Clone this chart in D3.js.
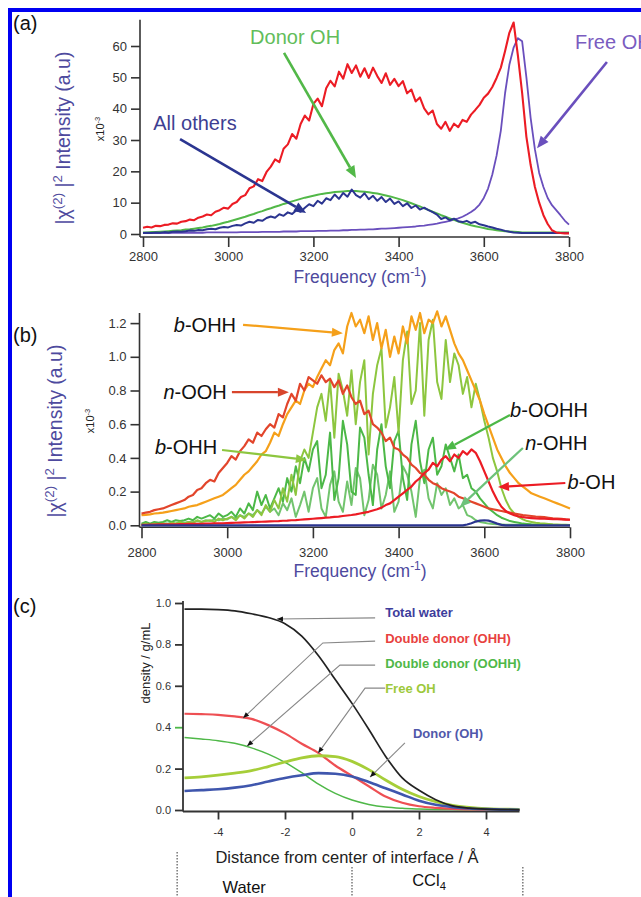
<!DOCTYPE html>
<html>
<head>
<meta charset="utf-8">
<script src="https://cdn.jsdelivr.net/npm/d3@7"></script>
<style>
  body { margin: 0; background: #fff; }
  svg { display: block; font-family: "Liberation Sans", Arial, Helvetica, sans-serif; }
  text { white-space: pre; }
</style>
</head>
<body>
<div id="chart"></div>
<script>
/* global d3 */

// ---------- data ----------
// panel (a) + (b): spectra sampled every 10 cm-1 from 2800 to 3800
const freq = d3.range(2800, 3801, 10);

// (a) total SFG (red)
const aTotal = [
  2.0, 2.3, 2.1, 2.6, 2.5, 2.9, 3.0, 3.4, 3.3, 3.9,
  4.1, 4.6, 4.4, 5.2, 5.6, 6.2, 6.0, 7.1, 7.6, 8.4,
  8.1, 9.6, 10.2, 11.8, 12.4, 14.6, 15.2, 17.5, 16.9, 19.8,
  21.5, 23.8, 22.9, 27.2, 28.6, 31.9, 30.4, 35.1, 37.8, 36.2,
  41.5, 43.2, 40.8, 46.5, 48.9, 47.1, 51.8, 49.6, 54.2, 51.4,
  53.8, 50.2, 52.9, 49.8, 53.1, 50.4, 48.2, 51.3, 47.6, 49.5,
  47.2, 48.8, 44.9, 46.1, 42.3, 43.6, 40.1, 38.2, 39.4, 35.1,
  33.6, 35.8, 32.9, 35.2, 34.1, 36.4, 35.8, 38.1, 39.6, 41.2,
  43.5, 44.8, 46.9, 49.8, 53.1, 58.4, 64.2, 67.5, 57.0, 45.0,
  31.0, 22.0, 15.0, 10.0, 6.0, 3.2, 1.2, 0.5, 0.3, 0.2,
  0.2
];
// (a) free OH (purple)
const aFree = [
  0.3, 0.3, 0.3, 0.3, 0.3, 0.3, 0.3, 0.4, 0.4, 0.4,
  0.4, 0.4, 0.4, 0.4, 0.4, 0.5, 0.5, 0.5, 0.5, 0.5,
  0.5, 0.5, 0.5, 0.6, 0.6, 0.6, 0.6, 0.6, 0.7, 0.7,
  0.7, 0.7, 0.7, 0.8, 0.8, 0.8, 0.8, 0.9, 0.9, 0.9,
  0.9, 1.0, 1.0, 1.0, 1.1, 1.1, 1.1, 1.2, 1.2, 1.3,
  1.3, 1.4, 1.4, 1.5, 1.5, 1.6, 1.7, 1.7, 1.8, 1.9,
  2.0, 2.1, 2.2, 2.3, 2.4, 2.6, 2.7, 2.9, 3.1, 3.3,
  3.6, 3.9, 4.2, 4.6, 5.0, 5.5, 6.2, 7.0, 8.0, 9.4,
  11.5, 14.5, 19.0, 25.0, 33.0, 45.0, 54.0, 59.5, 62.5, 61.5,
  50.0, 37.0, 27.0, 19.5, 15.0, 11.5, 9.2, 7.6, 6.0, 4.3,
  3.0
];
// (a) donor OH (green)
const aDonor = [
  0.5, 0.5, 0.6, 0.6, 0.7, 0.8, 0.9, 1.0, 1.1, 1.2,
  1.4, 1.5, 1.7, 1.9, 2.1, 2.4, 2.6, 2.9, 3.2, 3.6,
  3.9, 4.3, 4.7, 5.1, 5.5, 6.0, 6.4, 6.9, 7.3, 7.8,
  8.2, 8.7, 9.1, 9.6, 10.0, 10.4, 10.8, 11.2, 11.6, 11.9,
  12.2, 12.5, 12.8, 13.0, 13.2, 13.4, 13.5, 13.6, 13.7, 13.7,
  13.7, 13.6, 13.5, 13.3, 13.1, 12.9, 12.6, 12.3, 12.0, 11.6,
  11.2, 10.8, 10.3, 9.8, 9.3, 8.8, 8.2, 7.7, 7.1, 6.6,
  6.0, 5.5, 5.0, 4.5, 4.0, 3.6, 3.2, 2.8, 2.5, 2.2,
  1.9, 1.6, 1.4, 1.2, 1.0, 0.9, 0.8, 0.7, 0.6, 0.5,
  0.5, 0.5, 0.5, 0.5, 0.5, 0.5, 0.5, 0.5, 0.5, 0.5,
  0.5
];
// (a) all others (navy)
const aOthers = [
  0.3, 0.4, 0.3, 0.5, 0.4, 0.6, 0.5, 0.7, 0.8, 0.7,
  0.9, 1.1, 1.0, 1.3, 1.2, 1.5, 1.7, 1.5, 2.0, 2.2,
  2.1, 2.6, 2.9, 2.7, 3.4, 3.9, 3.6, 4.5, 4.2, 5.1,
  5.6, 5.2, 6.3, 5.8, 6.9, 6.4, 7.6, 7.1, 8.4, 9.5,
  8.9, 10.6, 9.7, 11.4, 10.8, 12.6, 11.2, 13.1, 11.9, 14.2,
  12.4, 11.6, 13.0, 11.1, 12.2, 10.6, 11.8, 10.2, 11.3, 9.6,
  10.4, 8.9, 9.8, 8.3, 9.1, 7.8, 8.4, 7.6, 7.0, 6.2,
  4.8, 5.3, 4.4, 4.9, 4.1, 3.8, 4.2, 3.5, 3.9, 3.1,
  2.8, 2.4, 2.1, 1.7, 1.4, 1.0, 0.7, 0.5, 0.4, 0.3,
  0.3, 0.3, 0.3, 0.3, 0.3, 0.3, 0.3, 0.3, 0.3, 0.3,
  0.3
];

// (b) b-OHH (orange)
const bOrange = [
  0.06, 0.062, 0.065, 0.07, 0.072, 0.075, 0.08, 0.085, 0.09, 0.095,
  0.10, 0.11, 0.115, 0.12, 0.13, 0.14, 0.15, 0.16, 0.17, 0.18,
  0.20, 0.22, 0.24, 0.27, 0.30, 0.32, 0.35, 0.38, 0.42, 0.44,
  0.49, 0.55, 0.53, 0.60, 0.66, 0.70, 0.74, 0.72, 0.80, 0.84,
  0.82, 0.88, 0.93, 0.98, 0.95, 1.04, 1.08, 1.02, 1.18, 1.26,
  1.18, 1.22, 1.14, 1.24, 1.10, 1.20, 1.05, 1.16, 1.00, 1.12,
  1.02, 1.18, 1.08, 1.24, 1.16, 1.26, 1.14, 1.22, 1.20, 1.27,
  1.18, 1.24, 1.16, 1.08, 1.02, 0.98, 0.92, 0.86, 0.80, 0.74,
  0.66, 0.59, 0.52, 0.45, 0.40, 0.35, 0.31, 0.28, 0.25, 0.23,
  0.21, 0.19, 0.18, 0.17, 0.16, 0.15, 0.14, 0.13, 0.12, 0.11,
  0.10
];
// (b) n-OOH (orange-red)
const bNOOH = [
  0.07, 0.075, 0.08, 0.09, 0.095, 0.10, 0.11, 0.12, 0.13, 0.14,
  0.15, 0.17, 0.18, 0.21, 0.22, 0.25, 0.27, 0.26, 0.31, 0.34,
  0.37, 0.41, 0.39, 0.44, 0.47, 0.51, 0.49, 0.55, 0.53, 0.57,
  0.60, 0.58, 0.66, 0.64, 0.72, 0.78, 0.74, 0.84, 0.80, 0.88,
  0.86, 0.84, 0.89, 0.85, 0.87, 0.82, 0.86, 0.78, 0.83, 0.76,
  0.72, 0.74, 0.66, 0.68, 0.60, 0.58, 0.55, 0.50, 0.52, 0.46,
  0.45, 0.42, 0.40, 0.36, 0.34, 0.31, 0.30, 0.27, 0.25, 0.24,
  0.22, 0.21, 0.20, 0.19, 0.17, 0.16, 0.15, 0.14, 0.13, 0.12,
  0.11, 0.10, 0.095, 0.09, 0.085, 0.08, 0.075, 0.07, 0.065, 0.06,
  0.058, 0.055, 0.052, 0.05, 0.048, 0.045, 0.042, 0.04, 0.038, 0.035,
  0.033
];
// (b) b-OH (red)
const bBOH = [
  0.003, 0.003, 0.004, 0.004, 0.005, 0.005, 0.005, 0.006, 0.006, 0.007,
  0.007, 0.008, 0.008, 0.009, 0.009, 0.01, 0.01, 0.011, 0.012, 0.012,
  0.013, 0.014, 0.015, 0.016, 0.017, 0.018, 0.019, 0.02, 0.021, 0.022,
  0.023, 0.024, 0.025, 0.027, 0.028, 0.03, 0.031, 0.033, 0.035, 0.037,
  0.039, 0.041, 0.043, 0.045, 0.047, 0.05, 0.052, 0.055, 0.058, 0.061,
  0.065, 0.07, 0.075, 0.08, 0.088, 0.095, 0.105, 0.12, 0.13, 0.15,
  0.17, 0.19, 0.21, 0.23, 0.26, 0.28, 0.31, 0.33, 0.37, 0.35,
  0.39, 0.41, 0.38, 0.42, 0.40, 0.44, 0.42, 0.45, 0.43, 0.38,
  0.32, 0.26, 0.20, 0.15, 0.11, 0.085, 0.07, 0.06, 0.052, 0.048,
  0.045, 0.043, 0.041, 0.04, 0.039, 0.038, 0.037, 0.036, 0.035, 0.034,
  0.033
];
// (b) green family
const bGreenA = [
  0.0, 0.01, 0.0, 0.01, 0.005, 0.01, 0.0, 0.015, 0.01, 0.02,
  0.01, 0.02, 0.015, 0.03, 0.02, 0.025, 0.03, 0.02, 0.04, 0.03,
  0.04, 0.05, 0.03, 0.06, 0.04, 0.07, 0.05, 0.09, 0.06, 0.12,
  0.08, 0.15, 0.10, 0.22, 0.14, 0.30, 0.18, 0.38, 0.45, 0.40,
  0.55, 0.70, 0.78, 0.62, 0.86, 0.52, 0.90, 0.80, 0.65, 0.92,
  0.60, 0.85, 0.98, 0.42, 0.78, 0.95, 1.05, 0.58, 0.70, 0.88,
  0.55, 0.98, 1.15, 0.72, 0.80, 1.20, 0.65, 1.10, 1.22, 0.85,
  0.75, 1.10, 0.85, 1.02, 0.95, 0.78, 0.88, 0.70, 0.84, 0.74,
  0.62, 0.52, 0.40, 0.32, 0.22, 0.15, 0.10, 0.07, 0.05, 0.035,
  0.025, 0.02, 0.015, 0.012, 0.01, 0.008, 0.006, 0.005, 0.004, 0.003,
  0.002
];
const bGreenB = [
  0.01, 0.02, 0.01, 0.02, 0.015, 0.02, 0.03, 0.02, 0.03, 0.025,
  0.03, 0.04, 0.03, 0.05, 0.04, 0.05, 0.06, 0.04, 0.07, 0.05,
  0.06, 0.08, 0.05, 0.10, 0.07, 0.13, 0.09, 0.20, 0.12, 0.18,
  0.10, 0.16, 0.22, 0.14, 0.28, 0.20, 0.35, 0.25, 0.40, 0.32,
  0.45, 0.50, 0.22, 0.30, 0.55, 0.15, 0.28, 0.62, 0.48, 0.20,
  0.18, 0.58, 0.52, 0.30, 0.12, 0.45, 0.60, 0.35, 0.22, 0.50,
  0.56, 0.28, 0.15, 0.48, 0.62, 0.38, 0.25, 0.45, 0.52, 0.30,
  0.35, 0.48, 0.40, 0.32, 0.42, 0.28, 0.30, 0.22, 0.20, 0.16,
  0.13, 0.10, 0.08, 0.06, 0.045, 0.035, 0.025, 0.02, 0.015, 0.01,
  0.008, 0.006, 0.005, 0.004, 0.003, 0.003, 0.002, 0.002, 0.002, 0.002,
  0.002
];
const bGreenC = [
  0.005, 0.01, 0.005, 0.01, 0.008, 0.012, 0.01, 0.015, 0.01, 0.02,
  0.015, 0.02, 0.018, 0.025, 0.02, 0.03, 0.025, 0.035, 0.03, 0.04,
  0.035, 0.05, 0.04, 0.06, 0.05, 0.07, 0.06, 0.09, 0.07, 0.11,
  0.08, 0.10, 0.06, 0.13, 0.09, 0.16, 0.05, 0.12, 0.20, 0.08,
  0.22, 0.28, 0.10, 0.05, 0.24, 0.32, 0.14, 0.08, 0.26, 0.12,
  0.34, 0.28, 0.06, 0.15, 0.36, 0.30, 0.10, 0.18, 0.32, 0.08,
  0.14, 0.35, 0.30, 0.20, 0.05, 0.28, 0.33, 0.16, 0.10, 0.25,
  0.18, 0.22, 0.12, 0.16, 0.10, 0.12, 0.06, 0.05, 0.03, 0.02,
  0.015, 0.01, 0.008, 0.006, 0.005, 0.004, 0.003, 0.003, 0.002, 0.002,
  0.002, 0.002, 0.002, 0.002, 0.002, 0.002, 0.002, 0.002, 0.002, 0.002,
  0.002
];
// (b) blue: [frequency, value]
const bBlue = [
  [2800, 0], [3550, 0], [3560, 0.005], [3570, 0.012], [3580, 0.022], [3590, 0.028],
  [3600, 0.03], [3610, 0.028], [3620, 0.02], [3630, 0.01], [3640, 0.003], [3650, 0], [3800, 0]
];

// panel (c): density profiles, every 0.5 A from -5 to 5
const dist = d3.range(-5, 5.01, 0.5);
const cTotal = [0.97, 0.97, 0.968, 0.962, 0.948, 0.93, 0.90, 0.84, 0.745, 0.63, 0.515,
  0.39, 0.26, 0.155, 0.095, 0.05, 0.02, 0.009, 0.004, 0.002, 0.001];
const cOHH = [0.465, 0.463, 0.46, 0.452, 0.44, 0.41, 0.37, 0.32, 0.275, 0.215, 0.165,
  0.115, 0.065, 0.035, 0.018, 0.01, 0.005, 0.003, 0.002, 0.001, 0.001];
const cOOHH = [0.35, 0.343, 0.335, 0.322, 0.30, 0.27, 0.23, 0.18, 0.125, 0.08, 0.048,
  0.027, 0.014, 0.008, 0.005, 0.003, 0.002, 0.001, 0.001, 0, 0];
const cFree = [0.155, 0.16, 0.168, 0.178, 0.19, 0.21, 0.232, 0.252, 0.262, 0.258, 0.235,
  0.195, 0.145, 0.10, 0.065, 0.04, 0.022, 0.012, 0.006, 0.004, 0.003];
const cDonor = [0.092, 0.096, 0.10, 0.108, 0.12, 0.138, 0.155, 0.168, 0.178, 0.175, 0.162,
  0.135, 0.105, 0.075, 0.045, 0.025, 0.014, 0.007, 0.004, 0.002, 0.001];

// ticks
const freqTicks = [2800, 3000, 3200, 3400, 3600, 3800];
const aYTicks = [0, 10, 20, 30, 40, 50, 60];
const bYTicks = [0, 0.2, 0.4, 0.6, 0.8, 1.0, 1.2];
const cXTicks = [-4, -2, 0, 2, 4];
const cYTicks = [0, 0.2, 0.4, 0.6, 0.8, 1.0];

// ---------- setup ----------
const W = 641, H = 897;
const LABEL_COLOR = '#4e4a9e';

const svg = d3.select('#chart').append('svg')
  .attr('width', W).attr('height', H);
svg.append('rect').attr('width', W).attr('height', H).attr('fill', '#fff');

// blue page frame
svg.append('rect')
  .attr('x', 10).attr('y', 10).attr('width', 660).attr('height', 920)
  .attr('fill', 'none').attr('stroke', '#0000f2').attr('stroke-width', 4);

const xA = d3.scaleLinear().domain([2800, 3800]).range([143, 569]);
const yA = d3.scaleLinear().domain([0, 60]).range([234, 46]);
const xB = d3.scaleLinear().domain([2800, 3800]).range([141.5, 570]);
const yB = d3.scaleLinear().domain([0, 1.2]).range([525.3, 323.1]);
const xC = d3.scaleLinear().domain([-5, 5]).range([184.5, 519.5]);
const yC = d3.scaleLinear().domain([0, 1]).range([810, 603]);

// helpers
function axes(g, x, y, o) {
  const ax = x.range()[0] - o.gap;
  const ay = y.range()[0] + o.gap;
  const gy = g.append('g').attr('transform', `translate(${ax},0)`)
    .call(d3.axisLeft(y).tickValues(o.yTicks).tickFormat(o.yFmt)
      .tickSize(o.yTick).tickSizeOuter(0).tickPadding(o.yPad));
  const gx = g.append('g').attr('transform', `translate(0,${ay})`)
    .call(d3.axisBottom(x).tickValues(o.xTicks).tickFormat(o.xFmt)
      .tickSize(o.xTick).tickSizeOuter(0).tickPadding(o.xPad));
  [gy, gx].forEach(a => {
    a.attr('font-family', null).attr('font-size', null);
    a.select('.domain').remove();
    a.selectAll('.tick line').attr('stroke', '#333').attr('stroke-width', o.w);
    a.selectAll('.tick text').attr('fill', '#333').style('font-size', o.font + 'px');
  });
  g.append('line')
    .attr('x1', ax).attr('x2', ax).attr('y1', y(o.yTop)).attr('y2', ay)
    .attr('stroke', '#333').attr('stroke-width', o.w);
  g.append('line')
    .attr('x1', ax).attr('x2', x.range()[1]).attr('y1', ay).attr('y2', ay)
    .attr('stroke', '#333').attr('stroke-width', o.w);
  return gy;
}

// text made of [string, shift, italic] parts; shift 1 = superscript, -1 = subscript
function rich(g, x, y, parts, o) {
  const t = g.append('text')
    .attr('transform', `translate(${x},${y})` + (o.rotate ? ' rotate(-90)' : ''))
    .attr('text-anchor', o.anchor || 'middle')
    .attr('fill', o.color || '#111')
    .style('font-size', o.size + 'px')
    .style('font-weight', o.weight || 'normal');
  let cur = 0;
  parts.forEach(([str, shift, italic]) => {
    const want = shift === 1 ? -o.size * 0.4 : shift === -1 ? o.size * 0.25 : 0;
    t.append('tspan')
      .attr('dy', want - cur)
      .style('font-size', shift ? (o.size * 0.68) + 'px' : o.size + 'px')
      .style('font-style', italic ? 'italic' : 'normal')
      .text(str);
    cur = want;
  });
  return t;
}

function arrowHead(g, a, b, color, hl, hw) {
  const ang = Math.atan2(b[1] - a[1], b[0] - a[0]);
  const bx = b[0] - hl * Math.cos(ang), by = b[1] - hl * Math.sin(ang);
  const px = -Math.sin(ang) * hw / 2, py = Math.cos(ang) * hw / 2;
  g.append('polygon')
    .attr('points', `${b[0]},${b[1]} ${bx + px},${by + py} ${bx - px},${by - py}`)
    .attr('fill', color);
  return [bx, by];
}

function arrow(g, p1, p2, color, w, hl, hw) {
  const base = arrowHead(g, p1, p2, color, hl, hw);
  g.append('line')
    .attr('x1', p1[0]).attr('y1', p1[1]).attr('x2', base[0]).attr('y2', base[1])
    .attr('stroke', color).attr('stroke-width', w);
}

// ---------- panel (a) ----------
const gA = svg.append('g');
axes(gA, xA, yA, {
  gap: 3, yTicks: aYTicks, xTicks: freqTicks, yFmt: d3.format('d'), xFmt: d3.format('d'),
  yTick: 9, xTick: 10, yPad: 4, xPad: 5, w: 1.6, font: 13, yTop: 68.4
});

const lineA = d3.line().x((d, i) => xA(freq[i])).y(d => yA(d));
[
  [aFree, '#6a4fbd', 1.8],
  [aDonor, '#52b848', 2],
  [aOthers, '#2b3590', 2],
  [aTotal, '#ec1c24', 2.1]
].forEach(([s, c, w]) => {
  gA.append('path').datum(s).attr('d', lineA)
    .attr('fill', 'none').attr('stroke', c).attr('stroke-width', w)
    .attr('stroke-linejoin', 'round');
});

gA.append('text').attr('x', 13).attr('y', 30).style('font-size', '20px').attr('fill', '#111').text('(a)');

rich(gA, 70, 138, [['|χ'], ['(2)', 1], [' |'], ['2', 1], [' Intensity (a.u)']],
  { rotate: true, size: 19.5, color: LABEL_COLOR }).attr('dy', '0.35em');
rich(gA, 104, 129, [['x10'], ['-3', 1]], { rotate: true, size: 11, color: '#222' });
rich(gA, 360, 283, [['Frequency (cm'], ['-1', 1], [')']], { size: 17.5, color: LABEL_COLOR });

const annA = [
  { text: 'Donor OH', color: '#62bd5a', f: 3157, v: 62.9, anchor: 'middle' },
  { text: 'All others', color: '#3d3e92', f: 2922, v: 35.4, anchor: 'middle' },
  { text: 'Free OH', color: '#7a5cc0', f: 3814, v: 61.3, anchor: 'start' }
];
annA.forEach(d => {
  gA.append('text').attr('x', xA(d.f)).attr('y', yA(d.v)).attr('dy', '0.35em')
    .attr('text-anchor', d.anchor).attr('fill', d.color).style('font-size', '20px').text(d.text);
});
const arrowsA = [
  { color: '#52b848', from: [3131, 57.8], to: [3300, 17.9] },
  { color: '#2b3590', from: [2887, 30.3], to: [3183, 6.7] },
  { color: '#6a4fbd', from: [3889, 54.9], to: [3725, 27.4] }
];
arrowsA.forEach(d => {
  arrow(gA, [xA(d.from[0]), yA(d.from[1])], [xA(d.to[0]), yA(d.to[1])], d.color, 2.6, 12, 10);
});

// ---------- panel (b) ----------
const gB = svg.append('g');
axes(gB, xB, yB, {
  gap: 2, yTicks: bYTicks, xTicks: freqTicks, yFmt: d3.format('.1f'), xFmt: d3.format('d'),
  yTick: 9, xTick: 11, yPad: 4, xPad: 9, w: 1.6, font: 13, yTop: 1.26
});

const lineB = d3.line().x((d, i) => xB(freq[i])).y(d => yB(d));
[
  [bGreenC, '#72c46e', 2],
  [bGreenB, '#4cb847', 2],
  [bGreenA, '#8dc63f', 2],
  [bOrange, '#f5a01a', 2.2],
  [bNOOH, '#e2452b', 2.2],
  [bBOH, '#ec1c24', 2.2]
].forEach(([s, c, w]) => {
  gB.append('path').datum(s).attr('d', lineB)
    .attr('fill', 'none').attr('stroke', c).attr('stroke-width', w)
    .attr('stroke-linejoin', 'round');
});
gB.append('path').datum(bBlue)
  .attr('d', d3.line().x(d => xB(d[0])).y(d => yB(d[1])))
  .attr('fill', 'none').attr('stroke', '#2b3590').attr('stroke-width', 2.2);

gB.append('text').attr('x', 13).attr('y', 342).style('font-size', '20px').attr('fill', '#111').text('(b)');

rich(gB, 62, 431, [['|χ'], ['(2)', 1], [' |'], ['2', 1], [' Intensity (a.u)']],
  { rotate: true, size: 19.5, color: LABEL_COLOR }).attr('dy', '0.35em');
rich(gB, 94, 421, [['x10'], ['-3', 1]], { rotate: true, size: 11, color: '#222' });
rich(gB, 360, 577, [['Frequency (cm'], ['-1', 1], [')']], { size: 17.5, color: LABEL_COLOR });

const annB = [
  { pre: 'b', rest: '-OHH', f: 2948, v: 1.19 },
  { pre: 'n', rest: '-OOH', f: 2925, v: 0.79 },
  { pre: 'b', rest: '-OHH', f: 2904, v: 0.465 },
  { pre: 'b', rest: '-OOHH', f: 3751, v: 0.684 },
  { pre: 'n', rest: '-OHH', f: 3768, v: 0.488 },
  { pre: 'b', rest: '-OH', f: 3850, v: 0.257 }
];
annB.forEach(d => {
  rich(gB, xB(d.f), yB(d.v) + 7, [[d.pre, 0, true], [d.rest]], { size: 20, color: '#111' });
});
const arrowsB = [
  { color: '#f5a01a', from: [3037, 1.19], to: [3270, 1.14] },
  { color: '#d8452c', from: [3011, 0.79], to: [3144, 0.79] },
  { color: '#8dc63f', from: [2988, 0.447], to: [3186, 0.388] },
  { color: '#4cb847', from: [3660, 0.655], to: [3508, 0.447] },
  { color: '#6dc27a', from: [3690, 0.459], to: [3543, 0.109] },
  { color: '#ec1c24', from: [3789, 0.251], to: [3632, 0.227] }
];
arrowsB.forEach(d => {
  arrow(gB, [xB(d.from[0]), yB(d.from[1])], [xB(d.to[0]), yB(d.to[1])], d.color, 2.2, 11, 9);
});

// ---------- panel (c) ----------
const gC = svg.append('g');
const gyC = axes(gC, xC, yC, {
  gap: 1.5, yTicks: cYTicks, xTicks: cXTicks, yFmt: d3.format('.1f'), xFmt: d => String(d),
  yTick: 8, xTick: 8, yPad: 4, xPad: 9, w: 1.8, font: 11, yTop: 1.01
});
gyC.selectAll('.tick').filter(d => d === 0.4).select('line').attr('stroke', '#4cb848');

const lineC = d3.line().x((d, i) => xC(dist[i])).y(d => yC(d)).curve(d3.curveMonotoneX);
[
  [cOOHH, '#4fb848', 1.5],
  [cOHH, '#ee4f53', 2.2],
  [cFree, '#a6ce39', 2.8],
  [cDonor, '#3f56ad', 2.6],
  [cTotal, '#222', 1.7]
].forEach(([s, c, w]) => {
  gC.append('path').datum(s).attr('d', lineC)
    .attr('fill', 'none').attr('stroke', c).attr('stroke-width', w);
});

gC.append('text').attr('x', 13).attr('y', 613).style('font-size', '20px').attr('fill', '#111').text('(c)');

gC.append('text')
  .attr('transform', 'translate(145,663) rotate(-90)')
  .attr('text-anchor', 'middle').attr('dy', '0.35em')
  .attr('fill', '#222').style('font-size', '13px')
  .text('density / g/mL');
gC.append('text').attr('x', 347).attr('y', 863).attr('text-anchor', 'middle')
  .attr('fill', '#222').style('font-size', '16.5px')
  .text('Distance from center of interface / Å');

const legendC = [
  { text: 'Total water', color: '#3d3d9c', x: 0.99, y: 0.952, path: [[0.69, 0.928], [-2.24, 0.923]] },
  { text: 'Double donor (OHH)', color: '#e8413e', x: 0.99, y: 0.831, path: [[0.69, 0.816], [-0.87, 0.807], [-3.25, 0.444]] },
  { text: 'Double donor (OOHH)', color: '#4fb848', x: 0.99, y: 0.71, path: [[0.69, 0.70], [-0.36, 0.70], [-3.13, 0.309]] },
  { text: 'Free OH', color: '#9dc93b', x: 0.99, y: 0.589, path: [[0.99, 0.589], [0.39, 0.589], [-1.01, 0.275]] },
  { text: 'Donor (OH)', color: '#5058aa', x: 1.82, y: 0.372, path: [[1.58, 0.324], [0.54, 0.159]] }
];
legendC.forEach(d => {
  gC.append('text').attr('x', xC(d.x)).attr('y', yC(d.y)).attr('dy', '0.35em')
    .attr('fill', d.color).style('font-size', '13px').style('font-weight', 'bold').text(d.text);
  const pts = d.path.map(p => [xC(p[0]), yC(p[1])]);
  const n = pts.length;
  gC.append('path').attr('d', d3.line()(pts))
    .attr('fill', 'none').attr('stroke', '#888').attr('stroke-width', 1.1);
  arrowHead(gC, pts[n - 2], pts[n - 1], '#111', 6, 5);
});

// region separators and labels
[-5.22, 0, 5.1].forEach((v, i) => {
  gC.append('line')
    .attr('x1', xC(v)).attr('x2', xC(v))
    .attr('y1', i === 0 ? 852 : 867).attr('y2', H)
    .attr('stroke', '#555').attr('stroke-width', 1.2).attr('stroke-dasharray', '1.5,1.5');
});
gC.append('text').attr('x', xC(-3.22)).attr('y', 893).attr('text-anchor', 'middle')
  .attr('fill', '#111').style('font-size', '16.5px').text('Water');
rich(gC, xC(2.3), 886, [['CCl'], ['4', -1]], { size: 16.5, color: '#111' });
</script>
</body>
</html>
